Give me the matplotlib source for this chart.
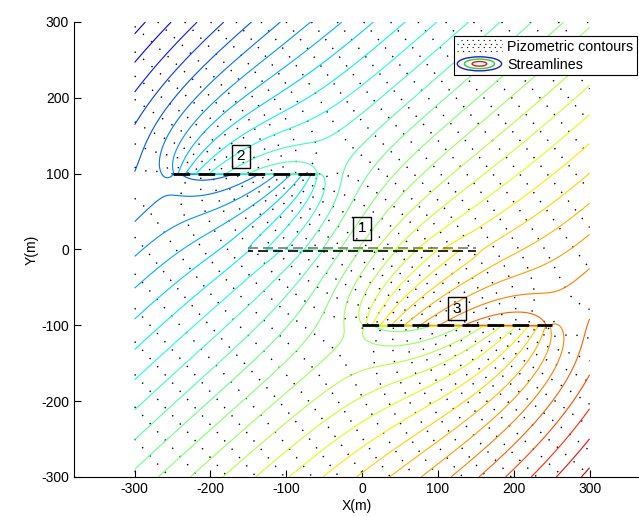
import numpy as np
import matplotlib
matplotlib.use("Agg")
import matplotlib.pyplot as plt
from matplotlib.lines import Line2D
from matplotlib.patches import Ellipse
from matplotlib.legend_handler import HandlerBase

plt.rcParams["font.family"] = ["Liberation Sans", "DejaVu Sans"]
plt.rcParams["font.size"] = 10
plt.rcParams["axes.unicode_minus"] = False

# fractures: label, x start, x end, y, strength factor
frac_labels = ["1", "2", "3"]
frac_x0 = [-150, -250, 0]
frac_x1 = [150, -55, 250]
frac_y = [0, 100, -100]
frac_strength = [-0.15, -1.5, -1.4]
label_pos_x = [0, -160, 125]
label_pos_y = [28, 123, -78]

# regional flow
flow_angle_deg = 45.0
flow_speed = 1.0
level_step = 27.5
color_lo, color_hi = -470.0, 455.0

# model grid
gx = np.linspace(-300, 300, 601)
gy = np.linspace(-300, 300, 601)
X, Y = np.meshgrid(gx, gy)
z = X + 1j * Y

alpha = np.deg2rad(flow_angle_deg)
omega = flow_speed * np.exp(-1j * alpha) * z
for x0, x1, yc, f in zip(frac_x0, frac_x1, frac_y, frac_strength):
    a = (x1 - x0) / 2.0
    zc = (x0 + x1) / 2.0 + 1j * yc
    Z = z - zc
    omega = omega + f * flow_speed * np.cos(alpha) * (np.sqrt(Z - a) * np.sqrt(Z + a) - Z)

head = omega.real
stream = -omega.imag

fig = plt.figure(figsize=(6.39, 5.16), dpi=100)
ax = fig.add_axes([0.1158, 0.0756, 0.884, 0.8818])

s_levels = np.arange(np.floor(stream.min() / level_step) * level_step,
                     stream.max() + level_step, level_step)
h_levels = np.arange(np.floor(head.min() / level_step) * level_step,
                     head.max() + level_step, level_step)

ax.contour(X, Y, head, levels=h_levels, colors="k", linewidths=1.0,
           linestyles=[(0, (1, 7))])
ax.contour(X, Y, stream, levels=s_levels, cmap="jet", linewidths=0.8,
           vmin=color_lo, vmax=color_hi)

for i, lab in enumerate(frac_labels):
    if i == 0:
        ax.plot([frac_x0[i], frac_x1[i]], [frac_y[i] + 2, frac_y[i] + 2],
                color="#777777", ls=(0, (6, 3)), lw=1.2)
        ax.plot([frac_x0[i], frac_x1[i]], [frac_y[i] - 1.5, frac_y[i] - 1.5],
                color="k", ls=(3, (6, 3)), lw=1.2)
    else:
        ax.plot([frac_x0[i], frac_x1[i]], [frac_y[i], frac_y[i]],
                color="k", ls=(0, (6, 3)), lw=2.0)
    ax.text(label_pos_x[i], label_pos_y[i], lab, ha="center", va="center",
            fontsize=11,
            bbox=dict(boxstyle="square,pad=0.3", fc="none", ec="k", lw=1.0))

ax.set_xlim(-380, 365)
ax.set_ylim(-300, 300)
ax.set_xticks([-300, -200, -100, 0, 100, 200, 300])
ax.set_yticks([-300, -200, -100, 0, 100, 200, 300])
ax.tick_params(direction="in", length=5, width=0.8, colors="k", labelsize=10)
ax.spines["top"].set_visible(False)
ax.spines["right"].set_visible(False)
for s in ("left", "bottom"):
    ax.spines[s].set_linewidth(0.8)
ax.set_xlabel("X(m)", labelpad=2)
ax.set_ylabel("Y(m)", labelpad=2)


class DotsHandler(HandlerBase):
    def create_artists(self, legend, orig, xd, yd, w, h, fs, trans):
        arts = []
        for k, fy in enumerate([0.0, 0.35, 0.7, 1.05]):
            ln = Line2D([xd + (k % 2) * 3, xd + w], [yd + fy * h, yd + fy * h],
                        color="k", lw=0.8, ls=(0, (1, 4)), transform=trans)
            arts.append(ln)
        return arts


class EllipseHandler(HandlerBase):
    def create_artists(self, legend, orig, xd, yd, w, h, fs, trans):
        cx, cy = xd + w / 2, yd + h / 2
        arts = []
        for sc, col in [(1.0, "#1f1fbf"), (0.68, "#33cc33"), (0.33, "#cc2222")]:
            arts.append(Ellipse((cx, cy), w * sc, h * 1.4 * sc, fc="none",
                                ec=col, lw=1.0, transform=trans))
        return arts


h1 = Line2D([], [])
h2 = Line2D([], [])
leg = ax.legend([h1, h2], ["Pizometric contours", "Streamlines"],
                handler_map={h1: DotsHandler(), h2: EllipseHandler()},
                loc="upper left", bbox_to_anchor=(0.6595, 0.985),
                fancybox=False, framealpha=1, edgecolor="k",
                handlelength=3.1, handletextpad=0.4, borderpad=0.25,
                labelspacing=0.3, fontsize=10.3)
leg.get_frame().set_linewidth(0.8)

fig.savefig("out.png", dpi=100)
